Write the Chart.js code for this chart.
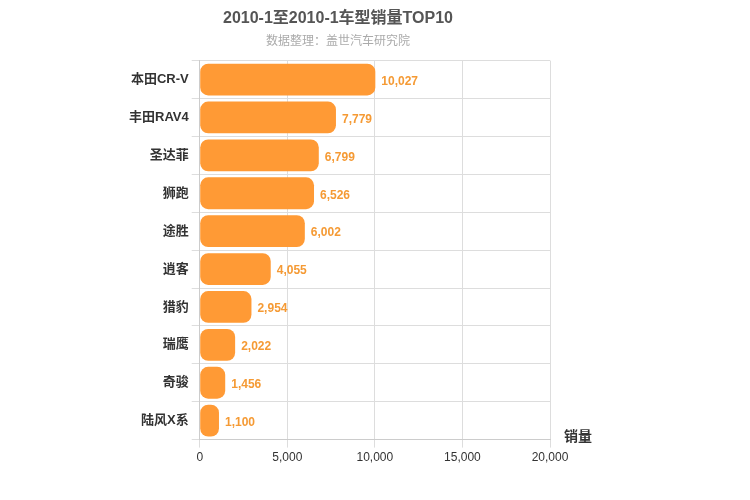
<!DOCTYPE html>
<html><head><meta charset="utf-8">
<script src="https://cdn.jsdelivr.net/npm/chart.js@4/dist/chart.umd.min.js"></script>
<style>body{margin:0;background:#fff}#wrap{width:750px;height:500px}</style>
</head><body><div id="wrap"><canvas id="c"></canvas></div>
<script>
const models = ['本田CR-V', '丰田RAV4', '圣达菲', '狮跑', '途胜', '逍客', '猎豹', '瑞鹰', '奇骏', '陆风X系'];
const sales = [10027, 7779, 6799, 6526, 6002, 4055, 2954, 2022, 1456, 1100];
const xTicks = [0, 5000, 10000, 15000, 20000];

const FONT = '"Helvetica Neue", Arial, "Noto Sans CJK SC", sans-serif';

const extras = {
    id: 'extras',
    afterDatasetsDraw(chart) {
        const { ctx, chartArea } = chart;
        const meta = chart.getDatasetMeta(0);
        ctx.save();
        ctx.font = 'bold 12px ' + FONT;
        ctx.fillStyle = '#f59a34';
        ctx.textBaseline = 'middle';
        meta.data.forEach((bar, i) => {
            ctx.fillText(sales[i].toLocaleString('en-US'), bar.x + 6, bar.y + 2);
        });
        ctx.fillStyle = '#333';
        ctx.font = 'bold 14px ' + FONT;
        ctx.fillText('销量', chartArea.right + 14, chartArea.bottom - 2);
        ctx.restore();
    }
};

new Chart(document.getElementById('c'), {
    type: 'bar',
    data: {
        labels: models,
        datasets: [{
            data: sales,
            backgroundColor: '#ff9a35',
            borderRadius: 8,
            borderSkipped: false,
            barPercentage: 0.84,
            categoryPercentage: 1
        }]
    },
    options: {
        indexAxis: 'y',
        responsive: true,
        maintainAspectRatio: false,
        animation: false,
        layout: { padding: { left: 126, right: 200, top: 1, bottom: 32 } },
        plugins: {
            legend: { display: false },
            tooltip: { enabled: false },
            title: {
                display: true, text: '2010-1至2010-1车型销量TOP10',
                color: '#555', font: { size: 16, weight: 'bold', family: FONT },
                padding: { top: 8, bottom: 6 }
            },
            subtitle: {
                display: true, text: '数据整理：盖世汽车研究院',
                color: '#aaa', font: { size: 12, family: FONT },
                padding: { bottom: 12 }
            }
        },
        scales: {
            x: {
                min: 0, max: 20000,
                afterBuildTicks: s => { s.ticks = xTicks.map(v => ({ value: v })); },
                grid: { color: '#ddd' },
                border: { color: '#ccc' },
                ticks: { color: '#333', font: { size: 12, family: FONT }, callback: v => v.toLocaleString('en-US') }
            },
            y: {
                grid: { color: '#ddd', offset: true },
                border: { color: '#ccc' },
                ticks: { color: '#333', font: { size: 13, weight: 'bold', family: FONT } }
            }
        }
    },
    plugins: [extras]
});
</script></body></html>
